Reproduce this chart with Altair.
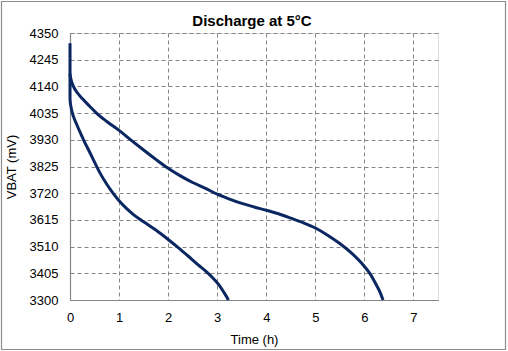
import altair as alt
import pandas as pd

# Curve 1 (longer discharge)
t1 = [0, 0, 0.02, 0.07, 0.15, 0.25, 0.4, 0.54, 0.75, 1.0, 1.25, 1.5, 1.75, 2.0, 2.25, 2.5, 2.75,
      3.0, 3.25, 3.5, 3.75, 4.0, 4.25, 4.5, 4.75, 5.0, 5.25, 5.5, 5.75, 6.0, 6.12, 6.25, 6.32, 6.38]
v1 = [4310, 4190, 4168, 4140, 4115, 4092, 4062, 4035, 4002, 3967, 3928, 3890, 3853, 3818, 3788, 3762, 3740,
      3716, 3697, 3680, 3666, 3653, 3639, 3622, 3604, 3583, 3555, 3522, 3482, 3432, 3402, 3357, 3330, 3300]

# Curve 2 (shorter discharge)
t2 = [0, 0, 0.03, 0.07, 0.12, 0.2, 0.3, 0.41, 0.5, 0.61, 0.75, 0.85, 1.0, 1.15, 1.3, 1.5, 1.75,
      2.0, 2.2, 2.4, 2.6, 2.8, 2.95, 3.05, 3.15, 3.23]
v2 = [4190, 4090, 4050, 4022, 3998, 3962, 3920, 3878, 3842, 3800, 3755, 3727, 3690, 3660, 3635, 3608, 3575,
      3538, 3507, 3474, 3440, 3408, 3379, 3356, 3326, 3300]

x_ticks = [0, 1, 2, 3, 4, 5, 6, 7]
y_ticks = [3300, 3405, 3510, 3615, 3720, 3825, 3930, 4035, 4140, 4245, 4350]
title_text = "Discharge at 5°C"

rows = []
for i, (t, v) in enumerate(zip(t1, v1)):
    rows.append({"series": "A", "t": t, "v": v, "i": i})
for i, (t, v) in enumerate(zip(t2, v2)):
    rows.append({"series": "B", "t": t, "v": v, "i": i})
df = pd.DataFrame(rows)

W, H = 368, 267
L, T, R, B = 70, 33, 70, 51
FONT = "Liberation Sans"
GRID = "#868686"

common = dict(format="d", tickSize=0, grid=True, gridDash=[4, 3], gridColor=GRID,
              gridWidth=1, gridOpacity=1, titleFontWeight="normal", labelFontSize=13,
              titleFontSize=13, labelFont=FONT, titleFont=FONT, labelColor="#000",
              titleColor="#000", domainColor=GRID, domainWidth=1.2, labelFlush=False,
              labelOverlap=False)

xs = alt.X("t:Q", scale=alt.Scale(domain=[0, 7.5], nice=False, zero=False),
           axis=alt.Axis(values=x_ticks, title="Time (h)", labelPadding=11, titlePadding=9, **common))
ys = alt.Y("v:Q", scale=alt.Scale(domain=[3300, 4350], nice=False, zero=False),
           axis=alt.Axis(values=y_ticks, title="VBAT (mV)", labelPadding=12, titlePadding=11, **common))

lines = alt.Chart(df).mark_line(color="#0b2762", strokeWidth=3, strokeCap="butt",
                                strokeJoin="round", interpolate="monotone").encode(
    x=xs, y=ys, detail="series:N", order="i:Q")

dummy = pd.DataFrame({"a": [0]})
border = alt.Chart(dummy).mark_rect(
    fill=None, stroke="#8c8c8c", strokeWidth=1.2).encode(
    x=alt.value(1.5 - L), x2=alt.value(505.5 - L),
    y=alt.value(1.5 - T), y2=alt.value(349.5 - T))

title = alt.Chart(dummy).mark_text(
    text=title_text, font=FONT, fontSize=15, fontWeight="bold", color="#000",
    align="center", baseline="alphabetic").encode(
    x=alt.value(252 - L), y=alt.value(26 - T))

chart = alt.layer(border, lines, title).properties(
    width=W, height=H,
    autosize=alt.AutoSizeParams(type="none"),
    padding={"left": L, "top": T, "right": R, "bottom": B},
).configure_view(stroke=None).configure(background="white")

chart.save("out.html", embed_options={"renderer": "svg", "actions": False})
